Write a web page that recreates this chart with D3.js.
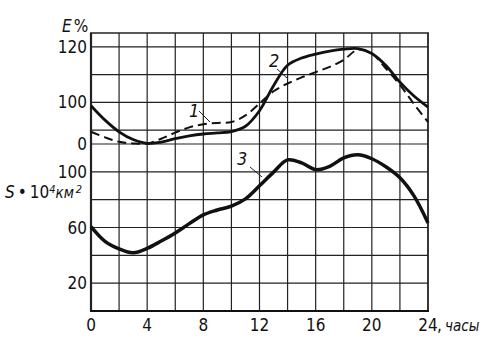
<!DOCTYPE html>
<html>
<head>
<meta charset="utf-8">
<script src="https://cdn.jsdelivr.net/npm/d3@7"></script>
<style>
  body { margin: 0; background: #fff; }
  svg { display: block; }
  .lbl { font-family: "Liberation Sans Narrow", "DejaVu Sans Condensed", sans-serif; font-size: 17px; fill: #111; }
  .ital { font-style: italic; }
</style>
</head>
<body>
<svg id="vis"></svg>
<script>
const WIDTH = 500;
const HEIGHT = 352;

// horas del día
const horas = [0, 1, 2, 3, 4, 5, 6, 7, 8, 9, 10, 11, 12, 13, 14, 15, 16, 17, 18, 19, 20, 21, 22, 23, 24];
// curva 1 (E%, discontinua)
const curva1 = [89.4, 87.4, 85.8, 85.2, 85.2, 86.9, 89.1, 91.0, 92.1, 92.6, 92.9, 95.3, 99.6, 104.0, 106.8, 109.0, 110.9, 112.8, 115.3, 119.0, 117.6, 112.2, 106.3, 99.4, 92.9];
// curva 2 (E%, continua)
const curva2 = [98.8, 93.6, 89.4, 86.6, 85.2, 85.7, 86.9, 87.9, 88.6, 89.0, 89.5, 91.4, 97.0, 106.0, 113.4, 116.0, 117.4, 118.5, 119.2, 119.4, 117.6, 113.3, 107.3, 102.3, 98.3];
// curva 3 (S·10^4 km²)
const curva3 = [60.6, 50.0, 44.6, 41.8, 45.0, 50.3, 56.1, 62.8, 69.1, 72.6, 75.4, 80.6, 90.0, 99.8, 108.6, 106.4, 101.6, 104.0, 110.0, 112.2, 109.4, 103.6, 95.7, 82.7, 63.3];

const ticksHoras = [0, 4, 8, 12, 16, 20, 24];
const gridHoras = [0, 2, 4, 6, 8, 10, 12, 14, 16, 18, 20, 22, 24];
const ticksE = [120, 100, 85];
const etiquetasE = ["120", "100", "0"];
const gridE = [90, 100, 110, 120];
const ticksS = [100, 60, 20];
const gridS = [20, 40, 60, 80, 100, 120];

const svg = d3.select("#vis").attr("width", WIDTH).attr("height", HEIGHT);

const escalaX = d3.scaleLinear().domain([0, 24]).range([91, 428]);
const escalaE = d3.scaleLinear().domain([85, 125]).range([144, 33]);
const escalaS = d3.scaleLinear().domain([0, 120]).range([311, 144]);

const arriba = escalaE(125);
const abajo = escalaS(0);

// grilla vertical
svg.append("g")
  .selectAll("line")
  .data(gridHoras)
  .join("line")
  .attr("x1", (d) => escalaX(d))
  .attr("x2", (d) => escalaX(d))
  .attr("y1", arriba)
  .attr("y2", abajo)
  .attr("stroke", "#222")
  .attr("stroke-width", (d) => (d === 0 ? 2.2 : d === 24 ? 1.8 : 1.2));

// grilla horizontal (E y S)
const lineasH = gridE.map((d) => escalaE(d)).concat(gridS.map((d) => escalaS(d)));
svg.append("g")
  .selectAll("line")
  .data(lineasH)
  .join("line")
  .attr("x1", escalaX(0))
  .attr("x2", escalaX(24))
  .attr("y1", (d) => d)
  .attr("y2", (d) => d)
  .attr("stroke", "#222")
  .attr("stroke-width", 1.2);

// bordes superior e inferior
svg.append("line")
  .attr("x1", escalaX(0) - 1).attr("x2", escalaX(24) + 1)
  .attr("y1", arriba).attr("y2", arriba)
  .attr("stroke", "#222").attr("stroke-width", 1.6);
svg.append("line")
  .attr("x1", escalaX(0) - 1).attr("x2", escalaX(24) + 1)
  .attr("y1", abajo).attr("y2", abajo)
  .attr("stroke", "#111").attr("stroke-width", 2.2);

// etiquetas eje x
svg.append("g")
  .selectAll("text")
  .data(ticksHoras)
  .join("text")
  .attr("class", "lbl")
  .attr("x", (d) => escalaX(d))
  .attr("y", 331)
  .attr("text-anchor", "middle")
  .text((d) => d);
svg.append("text")
  .attr("class", "lbl")
  .attr("x", escalaX(24) + 9)
  .attr("y", 331)
  .text(",");
svg.append("text")
  .attr("class", "lbl ital")
  .attr("x", escalaX(24) + 17)
  .attr("y", 331)
  .style("font-size", "15px")
  .text("часы");

// etiquetas E%
svg.append("g")
  .selectAll("text")
  .data(ticksE)
  .join("text")
  .attr("class", "lbl")
  .attr("x", 87)
  .attr("y", (d) => escalaE(d) + 6)
  .attr("text-anchor", "end")
  .text((d, i) => etiquetasE[i]);

// etiquetas S
svg.append("g")
  .selectAll("text")
  .data(ticksS)
  .join("text")
  .attr("class", "lbl")
  .attr("x", 87)
  .attr("y", (d) => escalaS(d) + 6)
  .attr("text-anchor", "end")
  .text((d) => d);

// titulos de ejes
const tituloE = svg.append("text").attr("class", "lbl").attr("x", 62).attr("y", 32);
tituloE.append("tspan").attr("class", "ital").text("E");
tituloE.append("tspan").attr("dx", 2).text("%");

const tituloS = svg.append("text").attr("class", "lbl ital").attr("x", 5).attr("y", 198);
tituloS.append("tspan").text("S");
tituloS.append("tspan").attr("dx", 3).style("font-style", "normal").text("•");
tituloS.append("tspan").attr("dx", 3).style("font-style", "normal").text("10");
tituloS.append("tspan").attr("dy", -5).style("font-size", "11px").text("4");
tituloS.append("tspan").attr("dy", 5).style("font-size", "15px").text("км");
tituloS.append("tspan").attr("dy", -5).attr("dx", 2).style("font-size", "11px").text("2");

// curvas
const lineaE = d3.line()
  .x((d, i) => escalaX(horas[i]))
  .y((d) => escalaE(d))
  .curve(d3.curveCatmullRom.alpha(0.5));
const lineaS = d3.line()
  .x((d, i) => escalaX(horas[i]))
  .y((d) => escalaS(d))
  .curve(d3.curveCatmullRom.alpha(0.5));

svg.append("path")
  .attr("d", lineaE(curva1))
  .attr("fill", "none")
  .attr("stroke", "#111")
  .attr("stroke-width", 2)
  .attr("stroke-dasharray", "9 5");

svg.append("path")
  .attr("d", lineaE(curva2))
  .attr("fill", "none")
  .attr("stroke", "#111")
  .attr("stroke-width", 2.8);

svg.append("path")
  .attr("d", lineaS(curva3))
  .attr("fill", "none")
  .attr("stroke", "#111")
  .attr("stroke-width", 3.5);

// numeros de curvas con lineas guia
const numeros = [
  { t: "1", x: 189, y: 117, x1: 199, y1: 111, x2: 210, y2: 122 },
  { t: "2", x: 269, y: 67, x1: 277, y1: 69, x2: 287, y2: 78 },
  { t: "3", x: 237, y: 165, x1: 250, y1: 167, x2: 262, y2: 177 },
];
svg.append("g")
  .selectAll("line")
  .data(numeros)
  .join("line")
  .attr("x1", (d) => d.x1).attr("y1", (d) => d.y1)
  .attr("x2", (d) => d.x2).attr("y2", (d) => d.y2)
  .attr("stroke", "#222").attr("stroke-width", 1);
svg.append("g")
  .selectAll("text")
  .data(numeros)
  .join("text")
  .attr("class", "lbl ital")
  .attr("x", (d) => d.x)
  .attr("y", (d) => d.y)
  .style("font-size", "18px")
  .text((d) => d.t);
</script>
</body>
</html>
